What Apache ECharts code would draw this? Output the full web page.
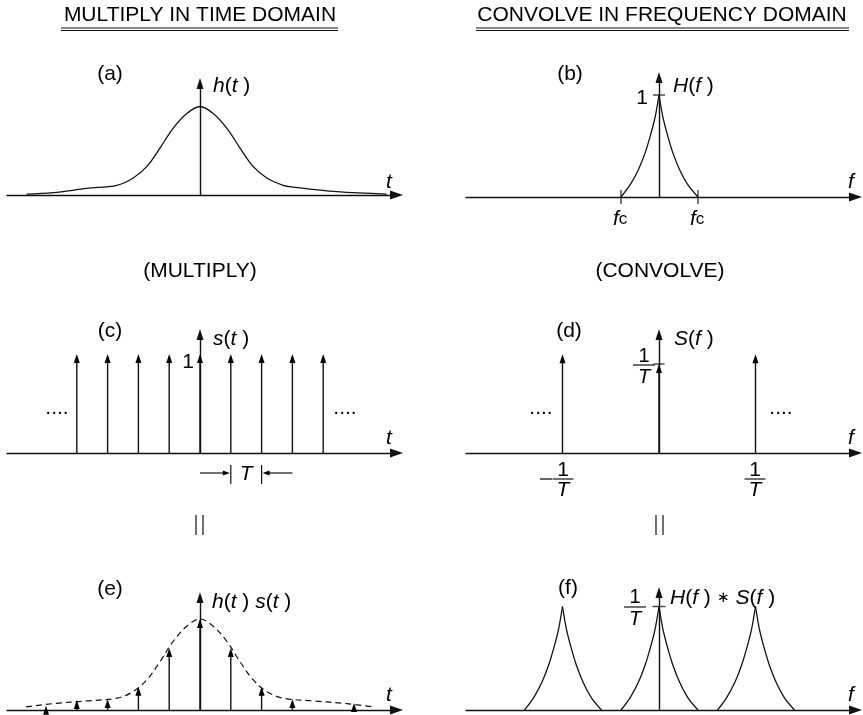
<!DOCTYPE html>
<html><head><meta charset="utf-8">
<script src="https://cdn.jsdelivr.net/npm/echarts@6/dist/echarts.min.js"></script>
<style>html,body{margin:0;padding:0;background:#fff}#c{width:863px;height:715px}</style>
</head><body><div id="c"></div>
<script>
// ---------------- data ----------------
// (a) h(t): time in units of T, amplitude relative to peak
const hT = [-5.63, -4.77, -3.68, -2.70, -2.18, -1.73, -1.30, -0.88, -0.43, 0, 0.43, 0.88, 1.30, 1.73, 2.18, 2.70, 3.02, 4.45, 6.06];
const hV = [0.01, 0.026, 0.075, 0.11, 0.19, 0.32, 0.53, 0.75, 0.92, 1.0, 0.92, 0.75, 0.53, 0.32, 0.19, 0.11, 0.09, 0.037, 0.01];
// (b) H(f): frequency in units of 1/T
const hfLeftF = [-0.394, -0.30, -0.215, -0.145, -0.093, -0.041, 0];
const hfLeftV = [0, 0.118, 0.265, 0.43, 0.59, 0.78, 1];
const hfRightF = [0, 0.041, 0.093, 0.145, 0.215, 0.30, 0.404];
const hfRightV = [1, 0.78, 0.59, 0.43, 0.265, 0.118, 0];
const fcF = [-0.394, 0.404];
// (c) s(t) comb
const combT = [-4, -3, -2, -1, 0, 1, 2, 3, 4];
const combV = [1, 1, 1, 1, 1, 1, 1, 1, 1];
const tSpan = [1, 2];
// (d) S(f) comb
const specF = [-1, 0, 1];
const specV = [1.11, 1, 1.11];
// (e) dashed envelope and h(t) s(t) samples
const envT = [-5.65, -4.77, -3.68, -2.70, -2.18, -1.73, -1.30, -0.88, -0.43, 0, 0.43, 0.88, 1.30, 1.73, 2.18, 2.70, 3.68, 4.77, 5.6];
const envV = [0.035, 0.07, 0.1, 0.13, 0.2, 0.33, 0.53, 0.75, 0.92, 1.0, 0.92, 0.75, 0.53, 0.33, 0.2, 0.13, 0.1, 0.07, 0.035];
const sampT = [-5, -4, -3, -2, -1, 0, 1, 2, 3, 5];
const sampV = [0.047, 0.11, 0.12, 0.256, 0.68, 1, 0.68, 0.256, 0.12, 0.077];
// (f) H(f)*S(f) replicas
const repF = [-1, 0, 1];
const repV = [1, 1, 1];

// ---------------- layout ----------------
const INK = '#000';
const FF = '"Liberation Sans", Arial, Helvetica, sans-serif';
const colL = {left: 7, right: 396.5, ox: 200, ux: 30.8};
const colR = {left: 466, right: 855.5, ox: 659, ux: 96.5};
const panels = [
  {col: colL, axisY: 195, tipY: 78, uy: 88.5},
  {col: colR, axisY: 197, tipY: 72, uy: 102},
  {col: colL, axisY: 453, tipY: 329, uy: 99},
  {col: colR, axisY: 453, tipY: 329, uy: 89},
  {col: colL, axisY: 710, tipY: 592, uy: 91},
  {col: colR, axisY: 710, tipY: 587, uy: 103.5}
];
const grids = [], xAxes = [], yAxes = [];
panels.forEach((p, i) => {
  const top = p.tipY + 5.5;
  grids.push({left: p.col.left, width: p.col.right - p.col.left, top: top, height: p.axisY - top});
  xAxes.push({type: 'value', gridIndex: i, min: (p.col.left - p.col.ox) / p.col.ux, max: (p.col.right - p.col.ox) / p.col.ux,
    axisLine: {show: true, onZero: true, symbol: ['none', 'triangle'], symbolSize: [9, 13], lineStyle: {color: '#111', width: 1.4}},
    axisTick: {show: false}, axisLabel: {show: false}, splitLine: {show: false}});
  yAxes.push({type: 'value', gridIndex: i, min: 0, max: (p.axisY - top) / p.uy,
    axisLine: {show: true, onZero: true, symbol: ['none', 'triangle'], symbolSize: [7, 11], lineStyle: {color: '#111', width: 1.4}},
    axisTick: {show: false}, axisLabel: {show: false}, splitLine: {show: false}});
});

function lineSeries(g, xs, vs, extra) {
  return Object.assign({type: 'line', xAxisIndex: g, yAxisIndex: g, data: xs.map((x, i) => [x, vs[i]]),
    smooth: 0.35, showSymbol: false, silent: true, z: 3,
    lineStyle: {color: '#111', width: 1.3}}, extra || {});
}
function impulses(g, xs, vs) {
  return {type: 'custom', xAxisIndex: g, yAxisIndex: g, clip: false, silent: true, z: 4,
    data: xs.map((x, i) => [x, vs[i]]),
    renderItem: function (params, api) {
      const b = api.coord([api.value(0), 0]);
      const t = api.coord([api.value(0), api.value(1)]);
      const ch = [];
      if (t[1] + 5 < b[1]) ch.push({type: 'line', shape: {x1: b[0], y1: b[1], x2: t[0], y2: t[1] + 5}, style: {stroke: '#111', lineWidth: 1.4}});
      ch.push({type: 'polygon', shape: {points: [[t[0], t[1]], [t[0] - 3, t[1] + 9], [t[0] + 3, t[1] + 9]]}, style: {fill: INK}});
      return {type: 'group', children: ch};
    }};
}
function ticks(g, pts, size) {
  return {type: 'scatter', xAxisIndex: g, yAxisIndex: g, data: pts, symbol: 'rect', symbolSize: size,
    itemStyle: {color: '#111'}, silent: true, z: 5};
}

const series = [];
// (a)
series.push(lineSeries(0, hT, hV));
// (b)
series.push(lineSeries(1, hfLeftF, hfLeftV, {smooth: 0.3}));
series.push(lineSeries(1, hfRightF, hfRightV, {smooth: 0.3}));
series.push(ticks(1, [[0, 1]], [12, 1.4]));
series.push(ticks(1, fcF.map(f => [f, 0]), [1.4, 14]));
// (c)
series.push(impulses(2, combT, combV));
series.push({type: 'custom', xAxisIndex: 2, yAxisIndex: 2, clip: false, silent: true,
  data: [tSpan],
  renderItem: function (params, api) {
    const p1 = api.coord([api.value(0), 0]);
    const p2 = api.coord([api.value(1), 0]);
    const y = p1[1] + 20, d = p2[0] - p1[0];
    const st = {stroke: '#111', lineWidth: 1.2};
    return {type: 'group', children: [
      {type: 'line', shape: {x1: p1[0], y1: y - 8, x2: p1[0], y2: y + 11}, style: st},
      {type: 'line', shape: {x1: p2[0], y1: y - 8, x2: p2[0], y2: y + 11}, style: st},
      {type: 'line', shape: {x1: p1[0] - d, y1: y, x2: p1[0] - 5, y2: y}, style: st},
      {type: 'polygon', shape: {points: [[p1[0] - 1, y], [p1[0] - 8, y - 2.5], [p1[0] - 8, y + 2.5]]}, style: {fill: INK}},
      {type: 'line', shape: {x1: p2[0] + d, y1: y, x2: p2[0] + 5, y2: y}, style: st},
      {type: 'polygon', shape: {points: [[p2[0] + 1, y], [p2[0] + 8, y - 2.5], [p2[0] + 8, y + 2.5]]}, style: {fill: INK}},
      {type: 'text', x: (p1[0] + p2[0]) / 2, y: y + 1, style: {text: 'T', font: 'italic 21px ' + FF, fill: INK, align: 'center', verticalAlign: 'middle'}}
    ]};
  }});
// (d)
series.push(impulses(3, specF, specV));
series.push(ticks(3, [[0, 1]], [11, 1.4]));
// (e)
series.push(lineSeries(4, envT, envV, {lineStyle: {color: '#111', width: 1.2, type: [6, 4]}}));
series.push(impulses(4, sampT, sampV));
// (f)
repF.forEach((k, i) => {
  series.push(lineSeries(5, hfLeftF.map(f => f + k), hfLeftV.map(v => v * repV[i]), {smooth: 0.3}));
  series.push(lineSeries(5, hfRightF.map(f => f + k), hfRightV.map(v => v * repV[i]), {smooth: 0.3}));
});
series.push(ticks(5, [[0, 1]], [13, 1.4]));

// ---------------- text ----------------
function rich(sz) {
  return {
    i: {fontStyle: 'italic', fontSize: sz, fontFamily: FF, fill: INK},
    n: {fontSize: sz, fontFamily: FF, fill: INK},
    s: {fontSize: 17, fontFamily: FF, fill: INK},
    a: {fontSize: 15, fontFamily: FF, fill: INK}
  };
}
function txt(x, y, text, opt) {
  opt = opt || {};
  const sz = opt.size || 21;
  return {type: 'text', x: x, y: y, silent: true, z: 10,
    style: {text: text, font: (opt.italic ? 'italic ' : '') + sz + 'px ' + FF, fill: INK,
      align: opt.align || 'center', verticalAlign: 'middle', rich: rich(sz)}};
}
function ln(x1, y1, x2, y2, w) {
  return {type: 'line', silent: true, z: 10, shape: {x1: x1, y1: y1, x2: x2, y2: y2}, style: {stroke: '#111', lineWidth: w || 1}};
}
function frac(cx, yTop, ybar, yBot, half, sz) {
  return [txt(cx, yTop, '1', {size: sz}), ln(cx - half, ybar, cx + half, ybar, 1.2), txt(cx, yBot, 'T', {size: sz, italic: true})];
}
const graphics = [
  txt(200, 15, 'MULTIPLY IN TIME DOMAIN'), ln(61, 28, 338, 28), ln(61, 30.5, 338, 30.5),
  txt(662, 15, 'CONVOLVE IN FREQUENCY DOMAIN'), ln(476, 28, 849, 28), ln(476, 30.5, 849, 30.5),
  // (a)
  txt(110, 74, '(a)'), txt(213, 86, '{i|h}{n|(}{i|t}{n| )}', {align: 'left'}), txt(389, 182, 't', {italic: true}),
  // (b)
  txt(570, 74, '(b)'), txt(673, 86, '{i|H}{n|(}{i|f}{n| )}', {align: 'left'}), txt(642, 98, '1'),
  txt(851, 182, 'f', {italic: true}),
  txt(613, 219, '{i|f}{s|c}', {align: 'left'}), txt(690, 219, '{i|f}{s|c}', {align: 'left'}),
  txt(200, 271, '(MULTIPLY)'), txt(660, 271, '(CONVOLVE)'),
  // (c)
  txt(110, 331, '(c)'), txt(213, 339, '{i|s}{n|(}{i|t}{n| )}', {align: 'left'}), txt(188, 362, '1'),
  txt(57, 408, '....'), txt(345, 408, '....'), txt(389, 438, 't', {italic: true}),
  // (d)
  txt(569, 331, '(d)'), txt(674, 339, '{i|S}{n|(}{i|f}{n| )}', {align: 'left'}),
  ...frac(644, 356, 365, 377, 11, 20),
  txt(541, 408, '....'), txt(781, 408, '....'), txt(851, 438, 'f', {italic: true}),
  ln(540, 479, 552, 479, 1.3),
  ...frac(563, 470, 479, 490, 10.5, 21),
  ...frac(755, 470, 479, 490, 10.5, 21),
  // equals
  ln(196, 515, 196, 535, 1.2), ln(203, 515, 203, 535, 1.2),
  ln(656, 515, 656, 535, 1.2), ln(663, 515, 663, 535, 1.2),
  // (e)
  txt(110, 589, '(e)'), txt(212, 602, '{i|h}{n|(}{i|t}{n| ) }{i|s}{n|(}{i|t}{n| )}', {align: 'left'}),
  txt(389, 695, 't', {italic: true}),
  // (f)
  txt(568, 588, '(f)'), ...frac(635, 597, 607, 619, 11, 20),
  txt(670, 598, '{i|H}{n|(}{i|f}{n| ) }{a|∗}{n| }{i|S}{n|(}{i|f}{n| )}', {align: 'left'}),
  txt(851, 695, 'f', {italic: true})
];

const chart = echarts.init(document.getElementById('c'), null, {renderer: 'canvas'});
chart.setOption({
  backgroundColor: '#fff',
  animation: false,
  grid: grids, xAxis: xAxes, yAxis: yAxes,
  series: series,
  graphic: {elements: graphics}
});
</script>
</body></html>
